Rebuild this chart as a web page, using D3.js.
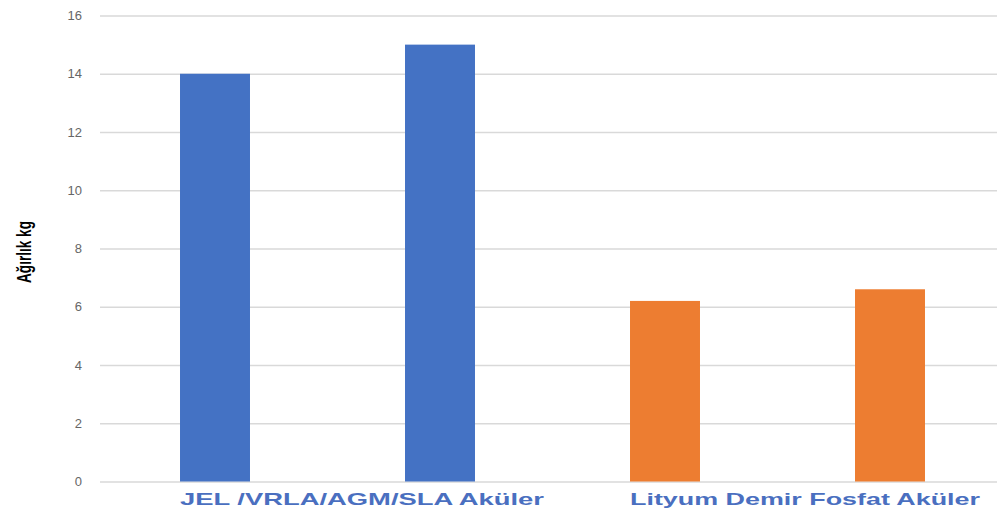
<!DOCTYPE html>
<html>
<head>
<meta charset="utf-8">
<script src="https://cdn.jsdelivr.net/npm/d3@7"></script>
<style>
body { margin: 0; background: #fff; }
svg { display: block; }
</style>
</head>
<body>
<div id="chart"></div>
<script>
// bar data
var bars = ["JEL 1", "JEL 2", "LFP 1", "LFP 2"];
var weights = [14, 15, 6.2, 6.6];
var barGroup = ["jel", "jel", "lfp", "lfp"];
var groupLabels = ["JEL /VRLA/AGM/SLA Aküler", "Lityum Demir Fosfat Aküler"];
var groupFirstBar = ["JEL 1", "LFP 1"];
var yTicks = [0, 2, 4, 6, 8, 10, 12, 14, 16];

var width = 997, height = 511;
var colors = { jel: "#4472C4", lfp: "#ED7D31" };

var svg = d3.select("#chart").append("svg")
    .attr("width", width)
    .attr("height", height);

var x = d3.scaleBand()
    .domain(bars)
    .range([102.5, 1002.5])
    .paddingInner(0.689)
    .paddingOuter(0.3445);

var y = d3.scaleLinear()
    .domain([0, 16])
    .range([481.5, 15.5]);

// gridlines + tick labels
var yaxis = d3.axisLeft(y).tickValues(yTicks).tickSize(-(width - 100)).tickPadding(18);
var gy = svg.append("g").attr("transform", "translate(100,0)").call(yaxis);
gy.select(".domain").remove();
gy.selectAll(".tick line").attr("stroke", "#d9d9d9").attr("stroke-width", 1.3);
gy.selectAll(".tick text")
    .attr("fill", "#666")
    .attr("font-family", "Liberation Sans, Arial, sans-serif")
    .attr("font-size", 13);

svg.selectAll("rect.bar")
    .data(weights)
    .enter()
    .append("rect")
    .attr("class", "bar")
    .attr("x", function(d, i) { return x(bars[i]); })
    .attr("width", x.bandwidth())
    .attr("y", function(d) { return y(d); })
    .attr("height", function(d) { return y(0) - y(d); })
    .attr("fill", function(d, i) { return colors[barGroup[i]]; });

// category labels start at first bar of each group
svg.selectAll("text.group")
    .data(groupLabels)
    .enter()
    .append("text")
    .attr("class", "group")
    .attr("x", function(d, i) { return x(groupFirstBar[i]); })
    .attr("y", 505)
    .attr("fill", "#4a6fc0")
    .attr("font-family", "Liberation Sans, Arial, sans-serif")
    .attr("font-weight", "bold")
    .attr("font-size", 17)
    .attr("textLength", function(d, i) { return i == 0 ? 364 : 350; })
    .attr("lengthAdjust", "spacingAndGlyphs")
    .text(function(d) { return d; });

svg.append("text")
    .attr("transform", "translate(31,252) rotate(-90)")
    .attr("text-anchor", "middle")
    .attr("fill", "#000")
    .attr("font-family", "Liberation Sans Narrow, Arial Narrow, sans-serif")
    .attr("font-weight", "bold")
    .attr("font-size", 20)
    .attr("textLength", 62)
    .attr("lengthAdjust", "spacingAndGlyphs")
    .text("Ağırlık kg");
</script>
</body>
</html>
